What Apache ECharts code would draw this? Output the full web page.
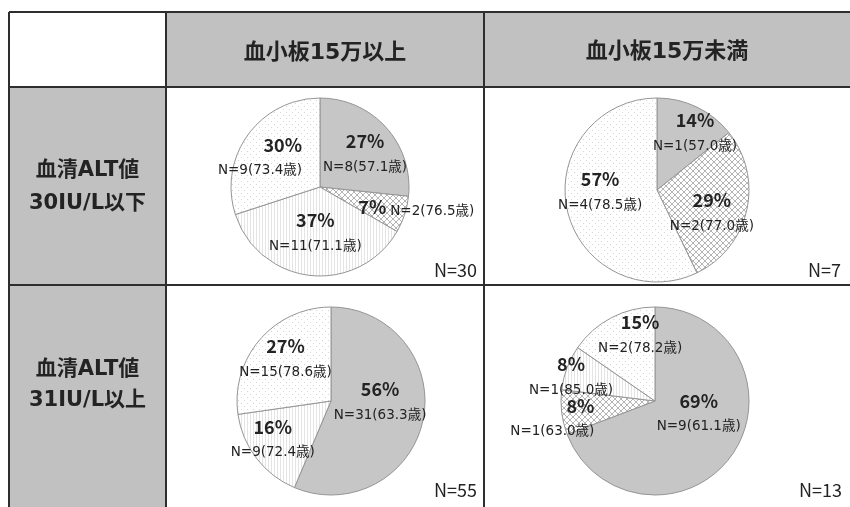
<!DOCTYPE html>
<html>
<head>
<meta charset="utf-8">
<script src="https://cdn.jsdelivr.net/npm/echarts@6/dist/echarts.min.js"></script>
<style>
  html, body { margin: 0; padding: 0; background: #fff; }
  #chart { width: 850px; height: 507px; }
</style>
</head>
<body>
<div id="chart"></div>
<script>
// Column and row headings of the 2x2 table
const colHeads = ['血小板15万以上', '血小板15万未満'];
const rowHeads = [['血清ALT値', '30IU/L以下'], ['血清ALT値', '31IU/L以上']];

// Patient counts and mean ages per slice (clockwise from 12 o'clock)
const countsTL = [8, 2, 11, 9];
const agesTL = [57.1, 76.5, 71.1, 73.4];
const countsTR = [1, 2, 4];
const agesTR = [57.0, 77.0, 78.5];
const countsBL = [31, 9, 15];
const agesBL = [63.3, 72.4, 78.6];
const countsBR = [9, 1, 1, 2];
const agesBR = [61.1, 63.0, 85.0, 78.2];

// Fill kind of each slice
const fillsTL = ['gray', 'cross', 'fine', 'sparse'];
const fillsTR = ['gray', 'cross', 'sparse'];
const fillsBL = ['gray', 'fine', 'sparse'];
const fillsBR = ['gray', 'cross', 'fine', 'sparse'];

// ---- pattern fills ----
function makeCanvas(w, h, draw) {
  const c = document.createElement('canvas');
  c.width = w; c.height = h;
  const ctx = c.getContext('2d');
  ctx.fillStyle = '#ffffff';
  ctx.fillRect(0, 0, w, h);
  draw(ctx);
  return c;
}
const crossCanvas = makeCanvas(6, 6, ctx => {
  ctx.strokeStyle = '#b4b4b4';
  ctx.lineWidth = 1;
  ctx.beginPath();
  ctx.moveTo(0, 0); ctx.lineTo(6, 6);
  ctx.moveTo(6, 0); ctx.lineTo(0, 6);
  ctx.stroke();
});
const fineCanvas = makeCanvas(3, 3, ctx => {
  ctx.fillStyle = '#e4e4e4';
  ctx.fillRect(1, 0, 1, 3);
});
const sparseCanvas = makeCanvas(6, 6, ctx => {
  ctx.fillStyle = '#d6d6d6';
  ctx.fillRect(1, 1, 1, 1);
  ctx.fillRect(4, 4, 1, 1);
});
const fillStyles = {
  gray: '#c6c6c6',
  cross: { image: crossCanvas, repeat: 'repeat' },
  fine: { image: fineCanvas, repeat: 'repeat' },
  sparse: { image: sparseCanvas, repeat: 'repeat' }
};

// Label nudges [dx, dy, style] from the point halfway out along each slice's bisector
const nudgeTL = [[12, -5, 'c'], [54, 6, 'inline'], [0, 0, 'c'], [-24, -5, 'r']];
const nudgeTR = [[18, -17, 'c'], [10, 11, 'c'], [-12, -10, 'c']];
const nudgeBL = [[3, -10, 'c'], [-21, 8, 'c'], [-10, -13, 'c']];
const nudgeBR = [[5, -16, 'c'], [-56, 10, 'r'], [-40, -9, 'c'], [7, -26, 'c']];

const FONT = '"Noto Sans CJK JP", "Noto Sans", sans-serif';
const WIDE = '"DejaVu Sans", "Noto Sans CJK JP", sans-serif';
const INK = '#232323';

function buildPie(center, radius, counts, ages, fills, nudges) {
  const total = counts.reduce((a, b) => a + b, 0);
  let acc = 0;
  return {
    type: 'pie',
    center: center,
    radius: radius,
    startAngle: 90,
    clockwise: true,
    silent: true,
    avoidLabelOverlap: false,
    labelLayout: { hideOverlap: false },
    labelLine: { show: false },
    emphasis: { disabled: true },
    itemStyle: { borderColor: '#959595', borderWidth: 1 },
    label: {
      show: true,
      position: 'center',
      fontFamily: FONT,
      rich: {
        p: { fontSize: 18, fontWeight: 'bold', color: INK, fontFamily: FONT, lineHeight: 30 },
        pr: { fontSize: 18, fontWeight: 'bold', color: INK, fontFamily: FONT, lineHeight: 30, align: 'right' },
        n: { fontSize: 13.5, color: INK, fontFamily: WIDE, lineHeight: 22 },
        ni: { fontSize: 13.5, color: INK, fontFamily: WIDE, padding: [10, 0, 0, 4] }
      }
    },
    data: counts.map((v, i) => {
      const pct = Math.round(v / total * 100) + '%';
      const nTxt = 'N=' + v + '(' + ages[i].toFixed(1) + '歳)';
      const nd = nudges[i];
      // bisector angle of this slice, measured clockwise from 12 o'clock
      const mid = (acc + v / 2) / total * 2 * Math.PI;
      acc += v;
      const ax = radius / 2 * Math.sin(mid);
      const ay = -radius / 2 * Math.cos(mid);
      let txt;
      if (nd[2] === 'inline') txt = '{p|' + pct + '}{ni|' + nTxt + '}';
      else if (nd[2] === 'r') txt = '{pr|' + pct + '}\n{n|' + nTxt + '}';
      else txt = '{p|' + pct + '}\n{n|' + nTxt + '}';
      return {
        value: v,
        itemStyle: { color: fillStyles[fills[i]] },
        label: { formatter: txt, offset: [ax + nd[0], ay + nd[1]] }
      };
    })
  };
}

// ---- table frame ----
const GRAY = '#c1c1c1';
const LINE = '#2e2e2e';
const X0 = 9, X1 = 166, X2 = 484, X3 = 852;
const Y0 = 12, Y1 = 87, Y2 = 285, Y3 = 509;

const graphics = [
  { type: 'rect', silent: true, shape: { x: X1, y: Y0, width: X3 - X1, height: Y1 - Y0 }, style: { fill: GRAY } },
  { type: 'rect', silent: true, shape: { x: X0, y: Y1, width: X1 - X0, height: Y3 - Y1 }, style: { fill: GRAY } },
  { type: 'line', silent: true, shape: { x1: X0, y1: Y0, x2: X3, y2: Y0 }, style: { stroke: LINE, lineWidth: 2 } },
  { type: 'line', silent: true, shape: { x1: X0, y1: Y1, x2: X3, y2: Y1 }, style: { stroke: LINE, lineWidth: 2 } },
  { type: 'line', silent: true, shape: { x1: X0, y1: Y2, x2: X3, y2: Y2 }, style: { stroke: LINE, lineWidth: 2 } },
  { type: 'line', silent: true, shape: { x1: X0, y1: Y0, x2: X0, y2: Y3 }, style: { stroke: LINE, lineWidth: 2 } },
  { type: 'line', silent: true, shape: { x1: X1, y1: Y0, x2: X1, y2: Y3 }, style: { stroke: LINE, lineWidth: 2 } },
  { type: 'line', silent: true, shape: { x1: X2, y1: Y0, x2: X2, y2: Y3 }, style: { stroke: LINE, lineWidth: 2 } }
];

const headStyle = { fontSize: 22, fontWeight: 'bold', fontFamily: WIDE, fill: INK, align: 'center', verticalAlign: 'middle' };
const rowStyle = Object.assign({}, headStyle, { fontSize: 21 });
graphics.push({ type: 'text', silent: true, x: (X1 + X2) / 2, y: 53, style: Object.assign({ text: colHeads[0] }, headStyle) });
graphics.push({ type: 'text', silent: true, x: (X2 + 850) / 2, y: 52, style: Object.assign({ text: colHeads[1] }, headStyle) });
graphics.push({ type: 'text', silent: true, x: (X0 + X1) / 2, y: 171, style: Object.assign({ text: rowHeads[0][0] }, rowStyle) });
graphics.push({ type: 'text', silent: true, x: (X0 + X1) / 2, y: 204, style: Object.assign({ text: rowHeads[0][1] }, rowStyle) });
graphics.push({ type: 'text', silent: true, x: (X0 + X1) / 2, y: 370, style: Object.assign({ text: rowHeads[1][0] }, rowStyle) });
graphics.push({ type: 'text', silent: true, x: (X0 + X1) / 2, y: 401, style: Object.assign({ text: rowHeads[1][1] }, rowStyle) });

// Totals in each cell's lower-right corner
const totals = [
  [countsTL, 477, 270], [countsTR, 841, 270],
  [countsBL, 477, 490], [countsBR, 842, 490]
];
totals.forEach(t => {
  graphics.push({
    type: 'text', silent: true, x: t[1], y: t[2],
    style: { text: 'N=' + t[0].reduce((a, b) => a + b, 0), fontSize: 18, fontFamily: FONT, fill: INK, align: 'right', verticalAlign: 'middle' }
  });
});

const chart = echarts.init(document.getElementById('chart'), null, { renderer: 'canvas' });
chart.setOption({
  animation: false,
  backgroundColor: '#ffffff',
  graphic: graphics,
  series: [
    buildPie([320, 187], 89, countsTL, agesTL, fillsTL, nudgeTL),
    buildPie([657, 190], 92, countsTR, agesTR, fillsTR, nudgeTR),
    buildPie([331, 401], 94, countsBL, agesBL, fillsBL, nudgeBL),
    buildPie([655, 401], 94, countsBR, agesBR, fillsBR, nudgeBR)
  ]
});
</script>
</body>
</html>
